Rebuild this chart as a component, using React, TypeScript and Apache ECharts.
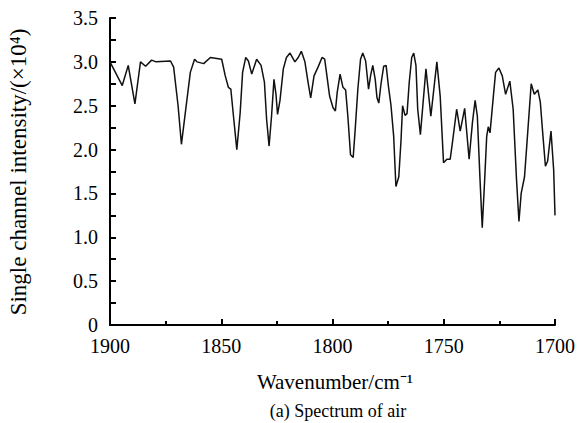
import React, { useEffect, useRef } from "react";
import * as echarts from "echarts";

const wavenumbers = [
  1900, 1894.5, 1891.8, 1888.8, 1886.3, 1884.0, 1881.3, 1879.3, 1872.8, 1871.4,
  1869.4, 1867.9, 1866.1, 1863.9, 1862.0, 1860.9, 1857.9, 1854.9, 1849.8, 1848.2,
  1846.8, 1845.7, 1844.5, 1843.0, 1841.5, 1840.4, 1839.0, 1837.8, 1836.3, 1834.1,
  1832.1, 1830.6, 1829.6, 1828.5, 1827.4, 1826.3, 1825.4, 1824.7, 1823.6, 1822.1,
  1820.7, 1819.1, 1816.9, 1815.4, 1814.0, 1812.4, 1811.0, 1809.8, 1808.3, 1806.5,
  1804.7, 1803.5, 1802.3, 1801.3, 1799.8, 1798.7, 1797.9, 1796.6, 1795.3, 1794.1,
  1793.1, 1791.9, 1790.7, 1789.8, 1788.6, 1787.4, 1786.4, 1785.1, 1783.8, 1782.9,
  1781.9, 1780.8, 1780.0, 1779.2, 1778.2, 1777.0, 1775.9, 1774.9, 1773.7, 1772.5,
  1771.5, 1770.2, 1769.2, 1768.5, 1767.4, 1766.5, 1765.5, 1764.4, 1763.5, 1762.5,
  1761.7, 1760.5, 1758.0, 1755.8, 1753.1, 1751.6, 1750.1, 1748.6, 1747.1, 1746.1,
  1744.2, 1742.6, 1740.6, 1738.6, 1737.1, 1735.9, 1734.9, 1733.7, 1732.7, 1731.6,
  1730.7, 1730.0, 1729.2, 1727.7, 1726.7, 1725.2, 1723.7, 1722.2, 1720.3, 1718.8,
  1717.3, 1716.2, 1715.2, 1713.7, 1712.5, 1710.7, 1709.3, 1707.7, 1706.6, 1705.4,
  1704.3, 1703.3, 1701.8, 1700.6, 1700.0
];

const intensities = [
  3.00, 2.73, 2.96, 2.52, 3.00, 2.95, 3.02, 3.00, 3.01, 2.94,
  2.50, 2.06, 2.43, 2.88, 3.03, 3.00, 2.98, 3.05, 3.03, 2.84,
  2.71, 2.69, 2.38, 2.00, 2.42, 2.88, 3.05, 3.01, 2.86, 3.03,
  2.96, 2.77, 2.34, 2.04, 2.38, 2.80, 2.63, 2.40, 2.56, 2.92,
  3.05, 3.10, 3.00, 3.05, 3.12, 3.00, 2.77, 2.59, 2.84, 2.94,
  3.05, 3.03, 2.80, 2.61, 2.48, 2.44, 2.65, 2.86, 2.71, 2.68,
  2.38, 1.94, 1.91, 2.23, 2.69, 3.03, 3.10, 3.01, 2.69, 2.84,
  2.96, 2.80, 2.59, 2.53, 2.75, 2.95, 2.96, 2.73, 2.50, 2.15,
  1.58, 1.69, 2.11, 2.50, 2.39, 2.41, 2.77, 3.05, 3.10, 2.96,
  2.46, 2.17, 2.92, 2.38, 3.00, 2.61, 1.85, 1.89, 1.89, 2.08,
  2.46, 2.21, 2.47, 1.89, 2.31, 2.56, 2.38, 1.66, 1.11, 1.66,
  2.15, 2.26, 2.19, 2.61, 2.88, 2.93, 2.84, 2.63, 2.78, 2.46,
  1.66, 1.18, 1.50, 1.69, 2.11, 2.75, 2.63, 2.68, 2.54, 2.15,
  1.81, 1.87, 2.21, 1.77, 1.25
];

const yAxisTitle = "Single channel intensity/(×10⁴)";
const xAxisTitle = "Wavenumber/cm⁻¹";
const caption = "(a) Spectrum of air";

const FONT = "'Liberation Serif', 'Times New Roman', serif";

export default function App() {
  const ref = useRef<HTMLDivElement>(null);
  useEffect(() => {
    if (!ref.current) return;
    document.body.style.margin = "0";
    const chart = echarts.init(ref.current, undefined, { renderer: "svg" });
    const data = wavenumbers.map((w, i) => [w, intensities[i]]);
    chart.setOption({
      animation: false,
      backgroundColor: "#ffffff",
      grid: { left: 110, right: 19, top: 18, bottom: 98, containLabel: false },
      xAxis: {
        type: "value",
        min: 1700,
        max: 1900,
        interval: 50,
        inverse: true,
        axisLine: { show: true, onZero: false, lineStyle: { color: "#000", width: 2 } },
        axisTick: { show: true, inside: true, length: 6, lineStyle: { color: "#000", width: 2 } },
        minorTick: { show: true, splitNumber: 2, length: 4, lineStyle: { color: "#000", width: 2 } },
        splitLine: { show: false },
        axisLabel: {
          color: "#000",
          fontFamily: FONT,
          fontSize: 20,
          margin: 11,
          formatter: (v: number) => String(Math.round(v)),
        },
      },
      yAxis: {
        type: "value",
        min: 0,
        max: 3.5,
        interval: 0.5,
        axisLine: { show: true, lineStyle: { color: "#000", width: 2 } },
        axisTick: { show: true, inside: true, length: 6, lineStyle: { color: "#000", width: 2 } },
        minorTick: { show: true, splitNumber: 2, length: 6, lineStyle: { color: "#000", width: 2 } },
        splitLine: { show: false },
        axisLabel: {
          color: "#000",
          fontFamily: FONT,
          fontSize: 20,
          margin: 12,
          formatter: (v: number) => (v === 0 ? "0" : v.toFixed(1)),
        },
      },
      graphic: [
        {
          type: "text",
          x: 18,
          y: 172,
          rotation: Math.PI / 2,
          style: {
            text: yAxisTitle,
            fill: "#000",
            font: `23px ${FONT}`,
            align: "center",
            verticalAlign: "middle",
          },
        },
        {
          type: "text",
          x: 335,
          y: 382,
          style: {
            text: xAxisTitle,
            fill: "#000",
            font: `21px ${FONT}`,
            align: "center",
            verticalAlign: "middle",
          },
        },
        {
          type: "text",
          x: 338,
          y: 411,
          style: {
            text: caption,
            fill: "#000",
            font: `18px ${FONT}`,
            align: "center",
            verticalAlign: "middle",
          },
        },
      ],
      series: [
        {
          type: "line",
          data,
          showSymbol: false,
          symbol: "none",
          lineStyle: { color: "#111", width: 1.5 },
          clip: true,
        },
      ],
    });
    return () => chart.dispose();
  }, []);
  return <div ref={ref} style={{ width: 578, height: 423 }} />;
}
